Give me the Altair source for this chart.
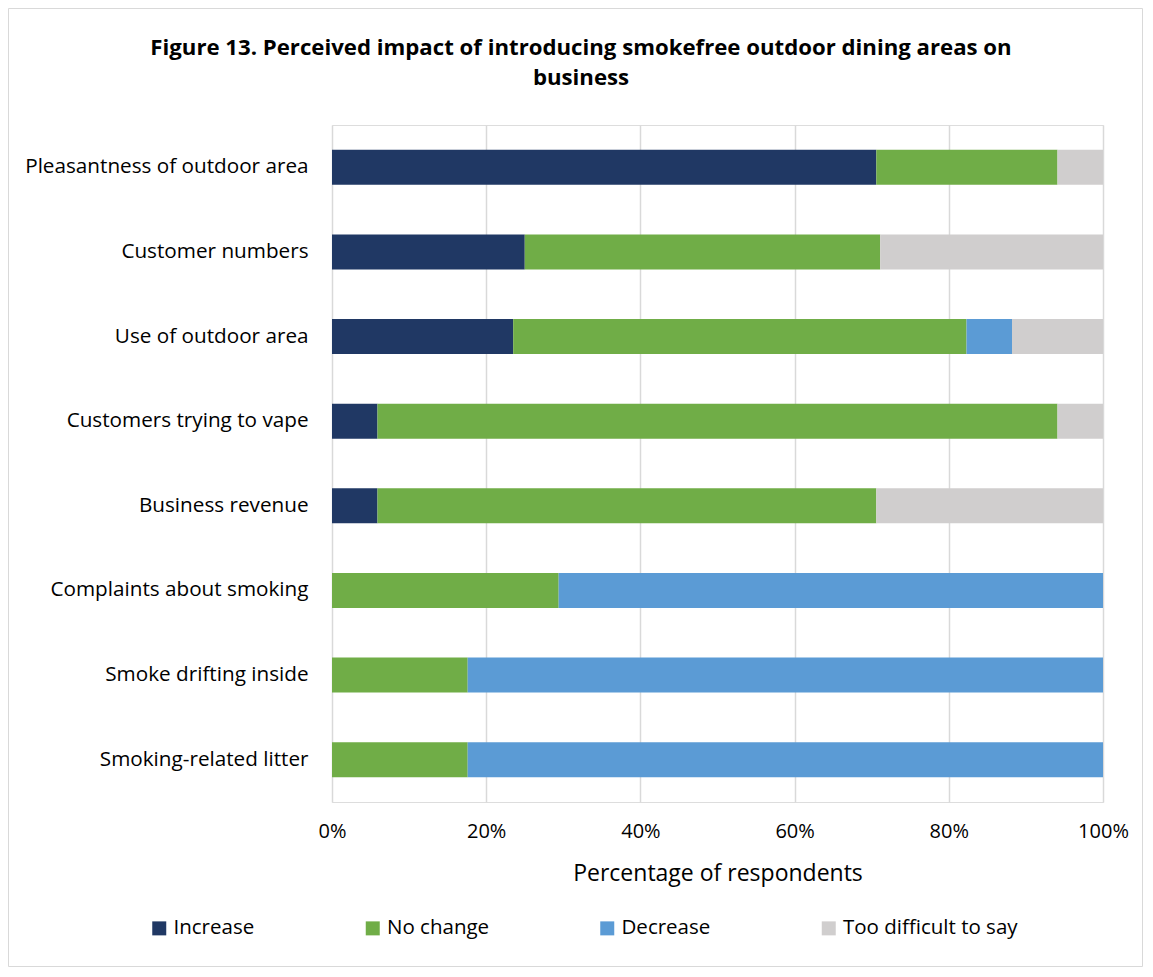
import altair as alt
import pandas as pd

categories = [
    "Pleasantness of outdoor area",
    "Customer numbers",
    "Use of outdoor area",
    "Customers trying to vape",
    "Business revenue",
    "Complaints about smoking",
    "Smoke drifting inside",
    "Smoking-related litter",
]
increase = [70.6, 25.0, 23.5, 5.9, 5.9, 0.0, 0.0, 0.0]
no_change = [23.5, 46.1, 58.8, 88.2, 64.7, 29.4, 17.6, 17.6]
decrease = [0.0, 0.0, 5.9, 0.0, 0.0, 70.6, 82.4, 82.4]
too_difficult = [5.9, 28.9, 11.8, 5.9, 29.4, 0.0, 0.0, 0.0]

series_names = ["Increase", "No change", "Decrease", "Too difficult to say"]
series_colors = ["#203864", "#70AD47", "#5B9BD5", "#D0CECE"]
x_ticks = [0, 20, 40, 60, 80, 100]

rows = []
for s_i, (name, vals) in enumerate(zip(series_names, [increase, no_change, decrease, too_difficult])):
    for cat, v in zip(categories, vals):
        rows.append({"category": cat, "series": name, "value": v, "order": s_i})
df = pd.DataFrame(rows)

FONT = "Open Sans"
W, H = 771, 677
PAD = {"left": 324, "top": 117, "right": 40, "bottom": 165}

bars = alt.Chart(df).mark_bar().encode(
    y=alt.Y(
        "category:N",
        sort=categories,
        scale=alt.Scale(paddingInner=0.585, paddingOuter=0.2925),
        axis=alt.Axis(title=None, ticks=False, domain=False, labelPadding=24,
                      labelFontSize=20.7, labelColor="#000000", labelFont=FONT, labelLimit=400),
    ),
    x=alt.X(
        "value:Q",
        stack="zero",
        scale=alt.Scale(domain=[0, 100], nice=False),
        axis=alt.Axis(
            title="Percentage of respondents",
            values=x_ticks,
            labelExpr="datum.value + '%'",
            labelFlush=False,
            ticks=False,
            domain=False,
            grid=True,
            gridColor="#d9d9d9",
            gridWidth=1.5,
            labelPadding=19,
            labelFontSize=20,
            labelColor="#000000",
            labelFont=FONT,
            titleFontSize=23,
            titleFont=FONT,
            titleFontWeight="normal",
            titleColor="#000000",
            titlePadding=21,
        ),
    ),
    color=alt.Color(
        "series:N",
        scale=alt.Scale(domain=series_names, range=series_colors),
        legend=alt.Legend(
            title=None,
            orient="none",
            direction="horizontal",
            legendX=-183,
            legendY=793,
            symbolType="square",
            symbolSize=196,
            symbolStrokeWidth=0,
            labelFontSize=20.5,
            labelFont=FONT,
            labelColor="#000000",
            labelOffset=4,
            columnPadding=107.5,
            padding=0,
            labelLimit=400,
        ),
    ),
    order=alt.Order("order:Q"),
)

border = alt.Chart(alt.Data(values=[{}])).mark_rect(
    fill="transparent", stroke="#d9d9d9", strokeWidth=1
).encode(
    x=alt.value(-323.5),
    x2=alt.value(W + PAD["right"] - 0.5),
    y=alt.value(-116.5),
    y2=alt.value(H + PAD["bottom"] - 0.5),
)

chart = alt.layer(border, bars).properties(
    width=W,
    height=H,
    padding=PAD,
    autosize=alt.AutoSizeParams(type="none"),
    title=alt.TitleParams(
        text=["Figure 13. Perceived impact of introducing smokefree outdoor dining areas on", "business"],
        font=FONT,
        fontSize=22.2,
        fontWeight="bold",
        color="#000000",
        lineHeight=30,
        anchor="middle",
        frame="bounds",
        offset=-81.5,
        dx=5.5,
    ),
).configure_view(stroke=None).configure(background="white")

chart.save("out.html", embed_options={"renderer": "svg", "actions": False})
